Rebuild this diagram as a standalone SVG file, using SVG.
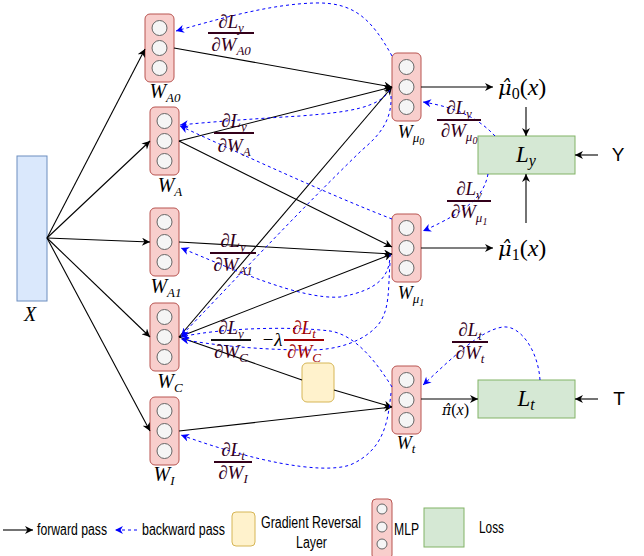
<svg xmlns="http://www.w3.org/2000/svg" width="644" height="556" viewBox="0 0 644 556">
<defs>
<style>
.mlp{fill:#f8cecc;stroke:#b85450;stroke-width:1}
.cir{fill:#f5f5f5;stroke:#666666;stroke-width:1}
.loss{fill:#d5e8d4;stroke:#82b366;stroke-width:1}
.grl{fill:#fff2cc;stroke:#d6b656;stroke-width:1}
.fw{fill:none;stroke:#000;stroke-width:1.1}
.bw{fill:none;stroke:#0000ff;stroke-width:1;stroke-dasharray:3 3}
.m{font-family:"Liberation Serif","DejaVu Serif",serif;font-style:italic;fill:#000}
.dj{font-family:"DejaVu Serif",serif;font-style:italic}
.lbl{font-size:20px}
.fr{font-size:19px;fill:#33001a}
.frr{font-size:19px;fill:#a00000}
.s{font-size:13px}
.ss{font-size:10px}
.bar{stroke:#33001a;stroke-width:2.2}
.barr{stroke:#a00000;stroke-width:2.2}
.sans{font-family:"Liberation Sans",Arial,sans-serif;fill:#000}
.lg{font-size:16px}
</style>
<marker id="ab" viewBox="0 0 10 10" refX="10" refY="5" markerWidth="10" markerHeight="8" markerUnits="userSpaceOnUse" orient="auto"><path d="M0,0 L10,5 L0,10 L3,5 z" fill="#000"/></marker>
<marker id="ablue" viewBox="0 0 10 10" refX="10" refY="5" markerWidth="9" markerHeight="8" markerUnits="userSpaceOnUse" orient="auto"><path d="M0,0 L10,5 L0,10 L3,5 z" fill="#0000ff"/></marker>
</defs>

<g id="X">
<rect x="17" y="156" width="30" height="145" fill="#dae8fc" stroke="#6c8ebf"/>
<text x="30" y="321" class="m lbl" text-anchor="middle">X</text>
</g>

<g id="W_A0">
<rect class="mlp" x="145" y="14" width="29" height="68" rx="5"/>
<circle class="cir" cx="159.5" cy="28" r="7.5"/><circle class="cir" cx="159.5" cy="48" r="7.5"/><circle class="cir" cx="159.5" cy="68" r="7.5"/>
<text x="165" y="98" class="m lbl" text-anchor="middle">W<tspan class="s" dy="4">A0</tspan></text>
</g>
<g id="W_A">
<rect class="mlp" x="150" y="107" width="29" height="68" rx="5"/>
<circle class="cir" cx="164.5" cy="121" r="7.5"/><circle class="cir" cx="164.5" cy="141" r="7.5"/><circle class="cir" cx="164.5" cy="161" r="7.5"/>
<text x="170" y="192" class="m lbl" text-anchor="middle">W<tspan class="s" dy="4">A</tspan></text>
</g>
<g id="W_A1">
<rect class="mlp" x="150" y="208" width="29" height="68" rx="5"/>
<circle class="cir" cx="164.5" cy="222" r="7.5"/><circle class="cir" cx="164.5" cy="242" r="7.5"/><circle class="cir" cx="164.5" cy="262" r="7.5"/>
<text x="166" y="293" class="m lbl" text-anchor="middle">W<tspan class="s" dy="4">A1</tspan></text>
</g>
<g id="W_C">
<rect class="mlp" x="150" y="303" width="29" height="68" rx="5"/>
<circle class="cir" cx="164.5" cy="317" r="7.5"/><circle class="cir" cx="164.5" cy="337" r="7.5"/><circle class="cir" cx="164.5" cy="357" r="7.5"/>
<text x="170" y="388" class="m lbl" text-anchor="middle">W<tspan class="s" dy="4">C</tspan></text>
</g>
<g id="W_I">
<rect class="mlp" x="150" y="397" width="29" height="68" rx="5"/>
<circle class="cir" cx="164.5" cy="411" r="7.5"/><circle class="cir" cx="164.5" cy="431" r="7.5"/><circle class="cir" cx="164.5" cy="451" r="7.5"/>
<text x="164" y="481" class="m lbl" text-anchor="middle">W<tspan class="s" dy="4">I</tspan></text>
</g>
<g id="W_mu0">
<rect class="mlp" x="392" y="53" width="29" height="68" rx="5"/>
<circle class="cir" cx="406.5" cy="67" r="7.5"/><circle class="cir" cx="406.5" cy="87" r="7.5"/><circle class="cir" cx="406.5" cy="107" r="7.5"/>
<text x="411" y="138" class="m" font-size="18" text-anchor="middle">W<tspan class="s" dy="4">μ</tspan><tspan class="ss" dy="3">0</tspan></text>
</g>
<g id="W_mu1">
<rect class="mlp" x="392" y="214" width="29" height="68" rx="5"/>
<circle class="cir" cx="406.5" cy="228" r="7.5"/><circle class="cir" cx="406.5" cy="248" r="7.5"/><circle class="cir" cx="406.5" cy="268" r="7.5"/>
<text x="411" y="299" class="m" font-size="18" text-anchor="middle">W<tspan class="s" dy="4">μ</tspan><tspan class="ss" dy="3">1</tspan></text>
</g>
<g id="W_t">
<rect class="mlp" x="392" y="366" width="29" height="68" rx="5"/>
<circle class="cir" cx="406.5" cy="380" r="7.5"/><circle class="cir" cx="406.5" cy="400" r="7.5"/><circle class="cir" cx="406.5" cy="420" r="7.5"/>
<text x="406" y="449" class="m" font-size="18" text-anchor="middle">W<tspan class="s" dy="4">t</tspan></text>
</g>
<g id="GRL">
<rect class="grl" x="302" y="363" width="32" height="39" rx="5"/>
</g>
<g id="L_y">
<rect class="loss" x="478" y="136" width="97" height="38"/>
<text x="526" y="162" class="m" font-size="23" text-anchor="middle">L<tspan font-size="16" dy="4">y</tspan></text>
</g>
<g id="L_t">
<rect class="loss" x="478" y="380" width="97" height="38"/>
<text x="526" y="406" class="m" font-size="23" text-anchor="middle">L<tspan font-size="16" dy="4">t</tspan></text>
</g>
<g id="mu0">
<text x="498" y="95" class="m" font-size="24"><tspan class="dj" font-size="21">μ̂</tspan><tspan font-size="16" dy="4" font-style="normal">0</tspan><tspan dy="-4" font-style="normal">(</tspan>x<tspan font-style="normal">)</tspan></text>
</g>
<g id="mu1">
<text x="498" y="256" class="m" font-size="24"><tspan class="dj" font-size="21">μ̂</tspan><tspan font-size="16" dy="4" font-style="normal">1</tspan><tspan dy="-4" font-style="normal">(</tspan>x<tspan font-style="normal">)</tspan></text>
</g>
<g id="pi">
<text x="442" y="415" class="m" font-size="16"><tspan class="dj" font-size="14">π̂</tspan><tspan font-style="normal">(</tspan>x<tspan font-style="normal">)</tspan></text>
</g>
<g id="Y"><text x="618" y="161" class="sans" font-size="19" text-anchor="middle">Y</text></g>
<g id="T"><text x="619" y="405" class="sans" font-size="19" text-anchor="middle">T</text></g>

<g id="connectors">
<path class="fw" d="M47 238 L145 49" marker-end="url(#ab)"/>
<path class="fw" d="M47 238 L150 141" marker-end="url(#ab)"/>
<path class="fw" d="M47 238 L150 242" marker-end="url(#ab)"/>
<path class="fw" d="M47 238 L150 337" marker-end="url(#ab)"/>
<path class="fw" d="M47 238 L150 431" marker-end="url(#ab)"/>
<path class="fw" d="M174 48 L392 87" marker-end="url(#ab)"/>
<path class="fw" d="M179 141 L392 87" marker-end="url(#ab)"/>
<path class="fw" d="M179 337 L392 87" marker-end="url(#ab)"/>
<path class="fw" d="M179 141 L392 247" marker-end="url(#ab)"/>
<path class="fw" d="M179 242 L392 254" marker-end="url(#ab)"/>
<path class="fw" d="M179 337 L392 254" marker-end="url(#ab)"/>
<path class="fw" d="M179 337 L302 380"/>
<path class="fw" d="M334 390 L392 407" marker-end="url(#ab)"/>
<path class="fw" d="M179 431 L392 407" marker-end="url(#ab)"/>
<path class="fw" d="M421 87 L493 87" marker-end="url(#ab)"/>
<path class="fw" d="M421 248 L493 248" marker-end="url(#ab)"/>
<path class="fw" d="M526 107 L526 136" marker-end="url(#ab)"/>
<path class="fw" d="M526 223 L526 174" marker-end="url(#ab)"/>
<path class="fw" d="M598 155 L575 155" marker-end="url(#ab)"/>
<path class="fw" d="M421 399 L478 399" marker-end="url(#ab)"/>
<path class="fw" d="M598 399 L575 399" marker-end="url(#ab)"/>

<path class="bw" d="M392 56 C372 20 355 2 315 3 C270 4 215 20 176 31" marker-end="url(#ablue)"/>
<path class="bw" d="M390 90 C378 108 350 112 300 116 C250 119 210 122 180 125" marker-end="url(#ablue)"/>
<path class="bw" d="M392 219 C330 195 250 158 180 126" marker-end="url(#ablue)"/>
<path class="bw" d="M391 96 C392 120 380 135 362 150 C300 210 230 285 181 336" marker-end="url(#ablue)"/>
<path class="bw" d="M390 254 C390 275 380 290 340 297 C300 300 230 268 181 248" marker-end="url(#ablue)"/>
<path class="bw" d="M390 263 C388 290 390 310 378 325 C365 340 340 350 310 350 C260 350 210 345 181 339" marker-end="url(#ablue)"/>
<path class="bw" d="M392 387 C375 360 355 335 330 331 C290 326 220 328 181 337" marker-end="url(#ablue)"/>
<path class="bw" d="M391 393 C388 420 385 450 350 465 C320 475 250 460 181 435" marker-end="url(#ablue)"/>
<path class="bw" d="M495 136 C480 120 460 108 423 102" marker-end="url(#ablue)"/>
<path class="bw" d="M488 174 C484 195 470 210 423 231" marker-end="url(#ablue)"/>
<path class="bw" d="M540 380 C538 350 520 325 503 327 C480 330 450 360 423 385" marker-end="url(#ablue)"/>
</g>

<g id="fractions">
<text x="231" y="28" class="m fr" text-anchor="middle">∂L<tspan class="s" dy="4">y</tspan></text>
<line class="bar" x1="208" y1="33" x2="254" y2="33"/>
<text x="231" y="51" class="m fr" text-anchor="middle">∂W<tspan class="s" dy="4">A0</tspan></text>

<text x="234" y="127" class="m fr" text-anchor="middle">∂L<tspan class="s" dy="4">y</tspan></text>
<line class="bar" x1="214" y1="133" x2="254" y2="133"/>
<text x="234" y="152" class="m fr" text-anchor="middle">∂W<tspan class="s" dy="4">A</tspan></text>

<text x="233" y="247" class="m fr" text-anchor="middle">∂L<tspan class="s" dy="4">y</tspan></text>
<line class="bar" x1="210" y1="253" x2="256" y2="253"/>
<text x="233" y="271" class="m fr" text-anchor="middle">∂W<tspan class="s" dy="4">A1</tspan></text>

<text x="231" y="334" class="m fr" fill="#1a0010" text-anchor="middle">∂L<tspan class="s" dy="4">y</tspan></text>
<line x1="211" y1="340" x2="251" y2="340" stroke="#111" stroke-width="2.2"/>
<text x="231" y="358" class="m fr" text-anchor="middle">∂W<tspan class="s" dy="4">C</tspan></text>
<text x="272" y="346" class="m" font-size="19" fill="#b33333" text-anchor="middle">−λ</text>
<text x="304" y="334" class="m frr" text-anchor="middle">∂L<tspan class="s" dy="4">t</tspan></text>
<line class="barr" x1="284" y1="340" x2="324" y2="340"/>
<text x="304" y="358" class="m frr" text-anchor="middle">∂W<tspan class="s" dy="4">C</tspan></text>

<text x="233" y="456" class="m fr" text-anchor="middle">∂L<tspan class="s" dy="4">t</tspan></text>
<line class="bar" x1="214" y1="462" x2="252" y2="462"/>
<text x="233" y="479" class="m fr" text-anchor="middle">∂W<tspan class="s" dy="4">I</tspan></text>

<text x="459" y="114" class="m fr" text-anchor="middle">∂L<tspan class="s" dy="4">y</tspan></text>
<line class="bar" x1="437" y1="120" x2="481" y2="120"/>
<text x="459" y="137" class="m fr" text-anchor="middle">∂W<tspan class="s" dy="4">μ</tspan><tspan class="ss" dy="3">0</tspan></text>

<text x="469" y="195" class="m fr" text-anchor="middle">∂L<tspan class="s" dy="4">y</tspan></text>
<line class="bar" x1="447" y1="201" x2="491" y2="201"/>
<text x="469" y="218" class="m fr" text-anchor="middle">∂W<tspan class="s" dy="4">μ</tspan><tspan class="ss" dy="3">1</tspan></text>

<text x="470" y="336" class="m fr" text-anchor="middle">∂L<tspan class="s" dy="4">t</tspan></text>
<line class="bar" x1="452" y1="342" x2="488" y2="342"/>
<text x="470" y="359" class="m fr" text-anchor="middle">∂W<tspan class="s" dy="4">t</tspan></text>
</g>

<g id="legend">
<path class="fw" d="M3 530 L33 530" marker-end="url(#ab)"/>
<text x="37" y="535" class="sans lg" textLength="70" lengthAdjust="spacingAndGlyphs">forward pass</text>
<path class="bw" d="M137 530 L115 530" marker-end="url(#ablue)"/>
<text x="142" y="535" class="sans lg" textLength="83" lengthAdjust="spacingAndGlyphs">backward pass</text>
<rect class="grl" x="232" y="512" width="23" height="34" rx="4"/>
<text x="261" y="528" class="sans lg" textLength="100" lengthAdjust="spacingAndGlyphs">Gradient Reversal</text>
<text x="296" y="548" class="sans lg" textLength="31" lengthAdjust="spacingAndGlyphs">Layer</text>
<rect class="mlp" x="372" y="499" width="20" height="60" rx="4"/>
<circle class="cir" cx="382" cy="509" r="5"/><circle class="cir" cx="382" cy="527" r="5"/><circle class="cir" cx="382" cy="544" r="5"/>
<text x="394" y="535" class="sans lg" textLength="25" lengthAdjust="spacingAndGlyphs">MLP</text>
<rect class="loss" x="424" y="508" width="40" height="39"/>
<text x="479" y="533" class="sans lg" textLength="25" lengthAdjust="spacingAndGlyphs">Loss</text>
</g>
</svg>
